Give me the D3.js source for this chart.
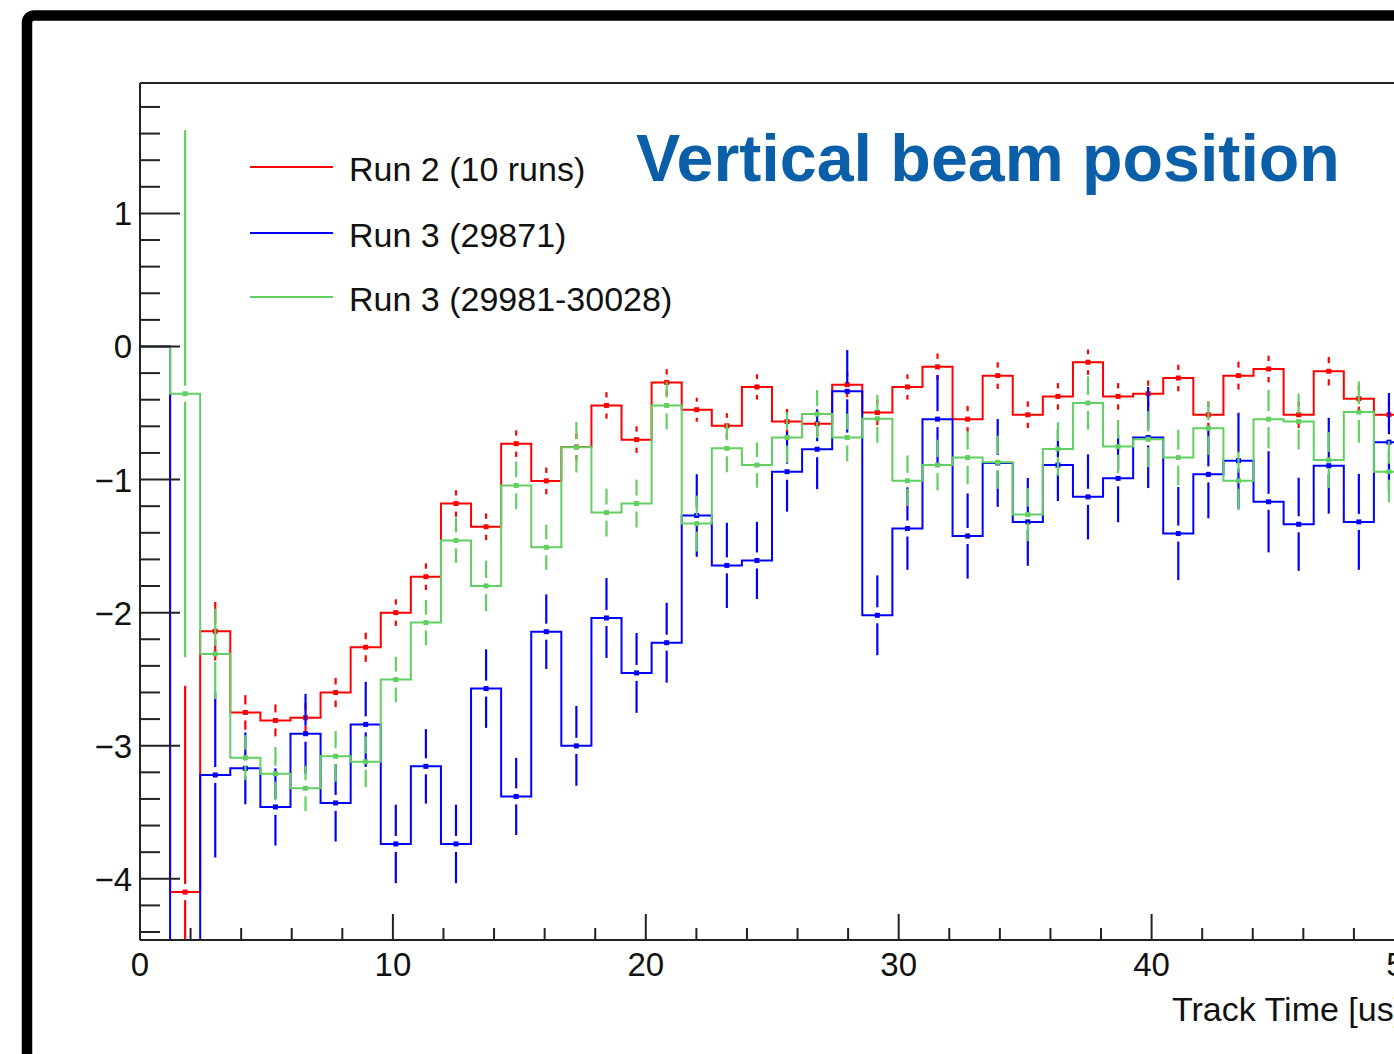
<!DOCTYPE html>
<html>
<head>
<meta charset="utf-8">
<script src="https://cdn.jsdelivr.net/npm/d3@7"></script>
<style>
  html, body { margin: 0; padding: 0; background: #ffffff; overflow: hidden; }
  svg { display: block; }
</style>
</head>
<body>
<svg id="chart" width="1394" height="1054"></svg>
<script>
// ---------------- data ----------------
const binWidth = 1.19; // us
const seriesNames = ["Run 2 (10 runs)", "Run 3 (29871)", "Run 3 (29981-30028)"];
const seriesColors = ["#ff0000", "#0000ff", "#62cf62"];

// bin contents (bin 0 is empty)
const redValues = [0, -4.10, -2.14, -2.75, -2.81, -2.79, -2.60, -2.26, -2.00, -1.73,
  -1.18, -1.355, -0.73, -1.01, -0.755, -0.443, -0.70, -0.27, -0.475, -0.596,
  -0.304, -0.564, -0.581, -0.287, -0.496, -0.304, -0.153, -0.546, -0.219, -0.513,
  -0.375, -0.118, -0.375, -0.355, -0.237, -0.513, -0.219, -0.169, -0.513, -0.186,
  -0.392, -0.513];
const redErrors = [null, 1.55, 0.22, 0.13, 0.12, 0.11, 0.11, 0.11, 0.10, 0.10,
  0.10, 0.10, 0.10, 0.10, 0.10, 0.10, 0.10, 0.10, 0.09, 0.095,
  0.095, 0.095, 0.095, 0.095, 0.095, 0.095, 0.10, 0.10, 0.10, 0.10,
  0.10, 0.095, 0.10, 0.10, 0.10, 0.10, 0.105, 0.10, 0.10, 0.107,
  0.10, 0.10];

const blueValues = [0, -5.30, -3.22, -3.17, -3.46, -2.91, -3.43, -2.84, -3.738, -3.155,
  -3.738, -2.571, -3.381, -2.143, -3.001, -2.040, -2.453, -2.226, -1.270, -1.645,
  -1.608, -0.941, -0.772, -0.337, -2.02, -1.368, -0.546, -1.424, -0.875, -1.318,
  -0.891, -1.13, -0.991, -0.684, -1.406, -0.961, -0.858, -1.167, -1.336, -0.896,
  -1.318, -0.719];
const blueErrors = [null, 0.60, 0.62, 0.27, 0.29, 0.30, 0.29, 0.32, 0.295, 0.28,
  0.295, 0.295, 0.29, 0.28, 0.30, 0.30, 0.30, 0.30, 0.31, 0.32,
  0.29, 0.30, 0.30, 0.31, 0.30, 0.31, 0.33, 0.32, 0.33, 0.33,
  0.27, 0.32, 0.33, 0.38, 0.35, 0.33, 0.36, 0.38, 0.35, 0.36,
  0.36, 0.37];

const greenValues = [0, -0.355, -2.31, -3.09, -3.21, -3.32, -3.08, -3.12, -2.503, -2.075,
  -1.457, -1.799, -1.044, -1.509, -0.757, -1.248, -1.18, -0.443, -1.331, -0.765,
  -0.891, -0.684, -0.508, -0.684, -0.543, -1.009, -0.891, -0.835, -0.870, -1.263,
  -0.770, -0.425, -0.752, -0.697, -0.835, -0.614, -1.009, -0.546, -0.564, -0.853,
  -0.493, -0.941];
const greenErrors = [null, 1.98, 0.34, 0.17, 0.20, 0.17, 0.19, 0.19, 0.17, 0.17,
  0.17, 0.19, 0.18, 0.17, 0.19, 0.18, 0.18, 0.18, 0.21, 0.18,
  0.17, 0.19, 0.18, 0.18, 0.18, 0.19, 0.19, 0.20, 0.20, 0.20,
  0.20, 0.20, 0.20, 0.21, 0.21, 0.20, 0.22, 0.22, 0.21, 0.21,
  0.23, 0.23];

const xMajorTicks = [0, 10, 20, 30, 40, 50];
const xTickLabels = ["0", "10", "20", "30", "40", "50"];
const yMajorTicks = [-4, -3, -2, -1, 0, 1];
const yTickLabels = ["\u22124", "\u22123", "\u22122", "\u22121", "0", "1"];
const titleText = "Vertical beam position";
const xAxisTitle = "Track Time [us]";

// ---------------- layout ----------------
const svg = d3.select("#chart");
const FONT = "'Liberation Sans', Arial, Helvetica, sans-serif";
const plot = { left: 140, top: 83, bottom: 940 };
const x = d3.scaleLinear().domain([0, 60]).range([plot.left, plot.left + 60 * 25.29]);
const y = d3.scaleLinear().domain([-4.46, 1.98]).range([plot.bottom, plot.top]);
const plotRight = x(60);

// outer rounded border
svg.append("rect")
  .attr("x", 27).attr("y", 15.5).attr("width", 1600).attr("height", 1200)
  .attr("rx", 7).attr("ry", 7)
  .attr("fill", "none").attr("stroke", "#000").attr("stroke-width", 10.5);

// clip
svg.append("defs").append("clipPath").attr("id", "plotclip")
  .append("rect").attr("x", plot.left).attr("y", plot.top)
  .attr("width", plotRight - plot.left).attr("height", plot.bottom - plot.top);

const dataG = svg.append("g").attr("clip-path", "url(#plotclip)");

const series = [
  { name: seriesNames[0], color: seriesColors[0], values: redValues, errors: redErrors },
  { name: seriesNames[1], color: seriesColors[1], values: blueValues, errors: blueErrors },
  { name: seriesNames[2], color: seriesColors[2], values: greenValues, errors: greenErrors }
];

const stepLine = d3.line().x(d => x(d.t)).y(d => y(d.v)).curve(d3.curveStepAfter);
const gap = 8; // px gap around marker in error bars
const mk = 5;  // marker size

series.forEach(s => {
  const g = dataG.append("g");
  const pts = s.values.map((v, i) => ({ t: i * binWidth, v }));
  pts.push({ t: s.values.length * binWidth, v: s.values[s.values.length - 1] });
  g.append("path").attr("d", stepLine(pts))
    .attr("fill", "none").attr("stroke", s.color).attr("stroke-width", 2);

  s.values.forEach((v, i) => {
    const e = s.errors[i];
    if (e === null || e === undefined) return;
    const cx = x((i + 0.5) * binWidth);
    const cy = y(v);
    const top = y(v + e), bot = y(v - e);
    if (cy - top > gap) {
      g.append("line").attr("x1", cx).attr("x2", cx).attr("y1", top).attr("y2", cy - gap)
        .attr("stroke", s.color).attr("stroke-width", 2.2);
    }
    if (bot - cy > gap) {
      g.append("line").attr("x1", cx).attr("x2", cx).attr("y1", cy + gap).attr("y2", bot)
        .attr("stroke", s.color).attr("stroke-width", 2.2);
    }
    g.append("rect").attr("x", cx - mk / 2).attr("y", cy - mk / 2)
      .attr("width", mk).attr("height", mk).attr("fill", s.color);
  });
});

// ---------------- axes & frame ----------------
const axisG = svg.append("g");
const frameColor = "#222";
// frame
axisG.append("line").attr("x1", plot.left).attr("x2", plot.left).attr("y1", plot.top).attr("y2", plot.bottom)
  .attr("stroke", frameColor).attr("stroke-width", 2);
axisG.append("line").attr("x1", plot.left).attr("x2", plotRight).attr("y1", plot.bottom).attr("y2", plot.bottom)
  .attr("stroke", frameColor).attr("stroke-width", 2);
axisG.append("line").attr("x1", plot.left).attr("x2", plotRight).attr("y1", plot.top).attr("y2", plot.top)
  .attr("stroke", frameColor).attr("stroke-width", 2);

// y ticks
const yMinor = d3.range(-22, 10).map(k => k * 0.2).filter(v => v >= -4.46 && v <= 1.98);
yMinor.forEach(v => {
  const isMajor = Math.abs(v - Math.round(v)) < 1e-6;
  axisG.append("line").attr("x1", plot.left).attr("x2", plot.left + (isMajor ? 40 : 20))
    .attr("y1", y(v)).attr("y2", y(v)).attr("stroke", frameColor).attr("stroke-width", 2);
});
yMajorTicks.forEach((v, i) => {
  axisG.append("text").attr("x", 132).attr("y", y(v) + 12)
    .attr("text-anchor", "end").attr("font-family", FONT).attr("font-size", 33)
    .attr("fill", "#111").text(yTickLabels[i]);
});

// x ticks
d3.range(1, 30).map(k => k * 2).forEach(v => {
  const isMajor = v % 10 === 0;
  axisG.append("line").attr("x1", x(v)).attr("x2", x(v))
    .attr("y1", plot.bottom).attr("y2", plot.bottom - (isMajor ? 26 : 12))
    .attr("stroke", frameColor).attr("stroke-width", 2);
});
xMajorTicks.forEach((v, i) => {
  axisG.append("text").attr("x", x(v)).attr("y", 976)
    .attr("text-anchor", "middle").attr("font-family", FONT).attr("font-size", 33)
    .attr("fill", "#111").text(xTickLabels[i]);
});

axisG.append("text").attr("x", 1172).attr("y", 1021)
  .attr("font-family", FONT).attr("font-size", 34).attr("fill", "#111").text(xAxisTitle);

// ---------------- legend ----------------
const legendY = [167, 233, 297];
series.forEach((s, i) => {
  svg.append("line").attr("x1", 250).attr("x2", 333).attr("y1", legendY[i]).attr("y2", legendY[i])
    .attr("stroke", s.color).attr("stroke-width", 2);
  svg.append("text").attr("x", 349).attr("y", legendY[i] + 14)
    .attr("font-family", FONT).attr("font-size", 34).attr("fill", "#111").text(s.name);
});

// ---------------- title ----------------
const title = svg.append("text").attr("x", 636).attr("y", 181)
  .attr("font-family", FONT).attr("font-weight", "bold").attr("font-size", 66)
  .attr("fill", "#0b5ea8").text(titleText);
const tw = title.node().getComputedTextLength();
if (tw > 0) title.attr("font-size", 66 * 704 / tw);
</script>
</body>
</html>
